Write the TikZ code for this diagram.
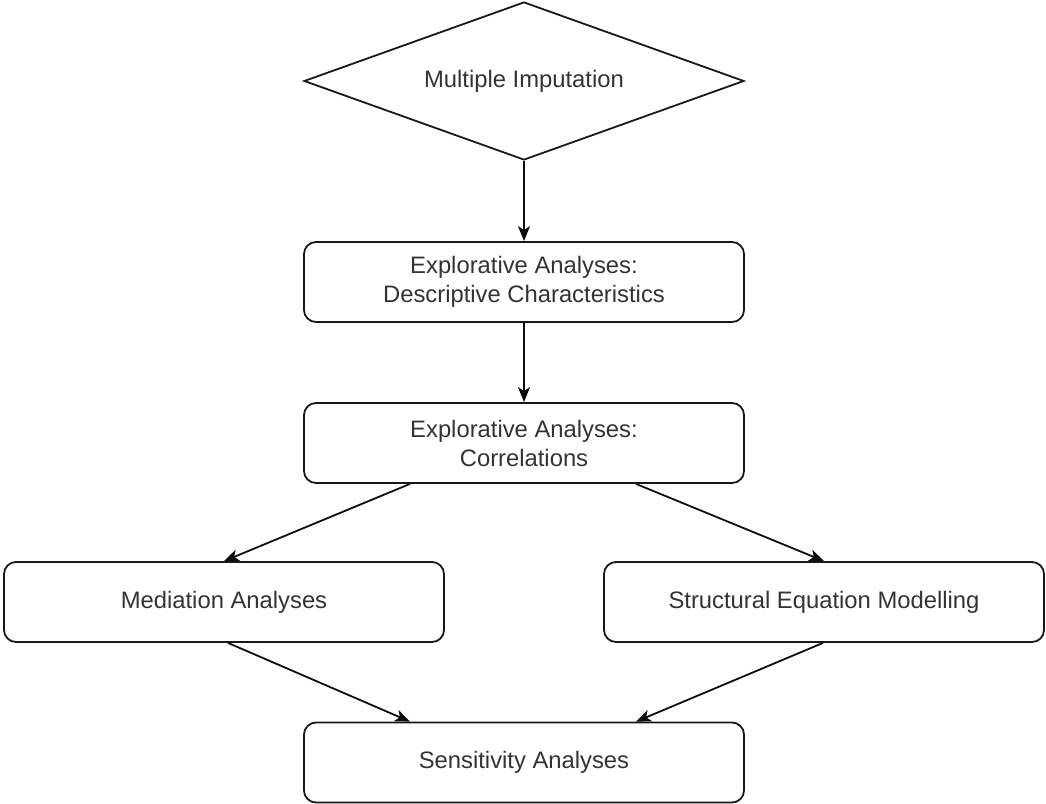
\documentclass[tikz,border=0pt]{standalone}
\usepackage{fontspec}
\setmainfont{Liberation Sans}
\usetikzlibrary{shapes.geometric,arrows.meta,calc}
\begin{document}
\begin{tikzpicture}[x=1pt,y=-1pt,
  every node/.style={font=\fontsize{23.8}{29}\selectfont, text=black!80},
  box/.style={draw=black!90, line width=1.8pt, rounded corners=12pt,
    minimum width=440pt, minimum height=80pt, align=center, inner sep=0pt},
  decision/.style={draw=black!90, line width=1.8pt, diamond, aspect=2.78,
    minimum width=440pt, minimum height=158pt, inner sep=0pt},
  flow/.style={draw=black!95, line width=1.8pt,
    -{Stealth[length=15pt,width=12pt,inset=4pt]}}]
\useasboundingbox (0,0) rectangle (1046,803);

% process steps
\node[decision] (imp) at (524,81) {Multiple Imputation};
\node[box] (desc) at (524,282) {Explorative Analyses:\\Descriptive Characteristics};
\node[box] (corr) at (524,443) {Explorative Analyses:\\Correlations};
\node[box] (med)  at (224,602) {Mediation Analyses};
\node[box] (sem)  at (824,602) {Structural Equation Modelling};
\node[box] (sens) at (524,762.5) {Sensitivity Analyses};

% connectors
\draw[flow] (imp.south) -- (desc.north);
\draw[flow] (desc.south) -- (corr.north);
\draw[flow] ([xshift=-114pt]corr.south) -- (med.north);
\draw[flow] ([xshift=112pt]corr.south) -- (sem.north);
\draw[flow] ([xshift=4pt]med.south) -- ([xshift=-114pt]sens.north);
\draw[flow] ([xshift=-1pt]sem.south) -- ([xshift=112pt]sens.north);
\end{tikzpicture}
\end{document}
